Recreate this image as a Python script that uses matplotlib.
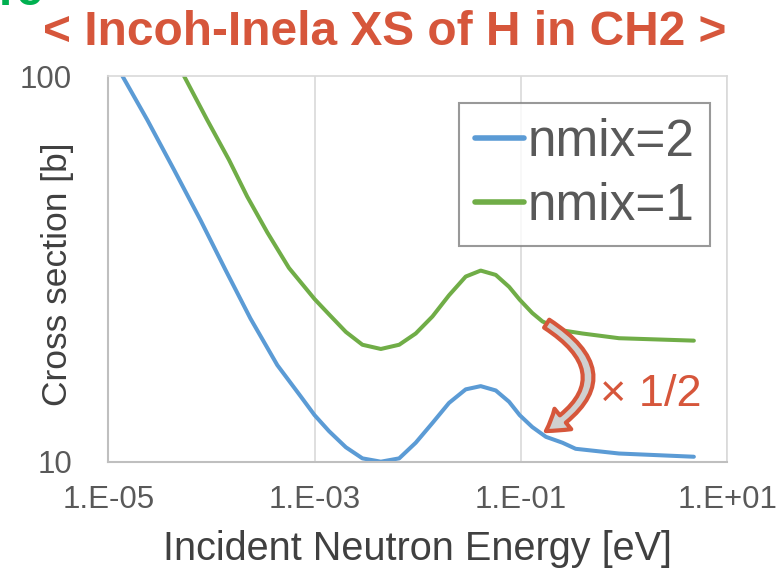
import matplotlib
matplotlib.use('Agg')
import matplotlib.pyplot as plt
from matplotlib.patches import FancyArrowPatch

plt.rcParams['font.family'] = ['Liberation Sans', 'DejaVu Sans']

# incident neutron energy [eV] and cross section [b]
energy_nmix2 = [1.37e-5, 2.39e-5, 4.34e-5, 7.83e-5, 1.37e-4, 2.39e-4, 4.35e-4, 7.29e-4,
                1.0e-3, 1.38e-3, 2.01e-3, 2.91e-3, 4.39e-3, 6.61e-3, 9.57e-3, 1.39e-2,
                2.01e-2, 2.92e-2, 4.08e-2, 5.71e-2, 7.69e-2, 9.75e-2, 1.29e-1, 1.75e-1,
                2.53e-1, 3.40e-1, 8.95e-1, 4.76]
xs_nmix2 = [100, 76.9, 57.1, 42.3, 31.4, 23.5, 17.8, 14.8,
            13.2, 12.0, 10.9, 10.2, 10.0, 10.2, 11.2, 12.6,
            14.2, 15.4, 15.7, 15.3, 14.3, 13.2, 12.3, 11.6,
            11.2, 10.8, 10.5, 10.3]

energy_nmix1 = [5.42e-5, 9.10e-5, 1.48e-4, 2.22e-4, 3.48e-4, 5.64e-4, 1.0e-3, 1.38e-3,
                2.01e-3, 2.91e-3, 4.39e-3, 6.61e-3, 9.57e-3, 1.39e-2, 2.01e-2, 2.92e-2,
                4.08e-2, 5.71e-2, 7.69e-2, 9.75e-2, 1.29e-1, 1.62e-1, 2.53e-1, 3.94e-1,
                8.95e-1, 4.76]
xs_nmix1 = [100, 76.9, 60.6, 48.7, 39.3, 31.8, 26.4, 24.1,
            21.7, 20.1, 19.6, 20.1, 21.5, 23.8, 27.0, 30.2,
            31.3, 30.5, 28.4, 26.3, 24.3, 23.1, 21.9, 21.5,
            20.9, 20.6]

xtick_vals = [1e-5, 1e-3, 1e-1, 1e1]
xtick_labels = ['1.E-05', '1.E-03', '1.E-01', '1.E+01']
ytick_vals = [10, 100]
ytick_labels = ['10', '100']

red = '#d6563b'
gray_txt = '#595959'

fig = plt.figure(figsize=(7.81, 5.69), dpi=100)
ax = fig.add_axes([0.1387, 0.1886, 0.7923, 0.6778])

ax.plot(energy_nmix2, xs_nmix2, color='#5b9bd5', lw=2.9, label='nmix=2',
        solid_capstyle='round', solid_joinstyle='round')
ax.plot(energy_nmix1, xs_nmix1, color='#70ad47', lw=2.9, label='nmix=1',
        solid_capstyle='round', solid_joinstyle='round')

ax.set_xscale('log')
ax.set_yscale('log')
ax.set_xlim(1e-5, 1e1)
ax.set_ylim(10, 100)
ax.set_xticks(xtick_vals)
ax.set_xticklabels(xtick_labels)
ax.set_yticks(ytick_vals)
ax.set_yticklabels(ytick_labels)
ax.minorticks_off()
ax.tick_params(length=0, labelsize=22.5, colors=gray_txt)
ax.tick_params(axis='x', pad=17)
ax.tick_params(axis='y', pad=26)
ax.grid(True, axis='x', color='#d9d9d9', lw=1.2)
ax.set_axisbelow(True)
for s in ['left', 'bottom']:
    ax.spines[s].set_color('#bfbfbf')
    ax.spines[s].set_linewidth(1.5)
for s in ['top', 'right']:
    ax.spines[s].set_color('#d9d9d9')
    ax.spines[s].set_linewidth(1.2)

ax.set_xlabel('Incident Neutron Energy [eV]', fontsize=28.5, color='#404040')
ax.xaxis.set_label_coords(0.5, -0.178)
ax.set_ylabel('Cross section [b]', fontsize=25.5, color='#404040')
ax.yaxis.set_label_coords(-0.055, 0.485)

leg = ax.legend(loc='upper right', bbox_to_anchor=(0.9725, 0.930), fontsize=37,
                frameon=True, fancybox=False, borderaxespad=0, handlelength=0.95,
                handletextpad=0.08, borderpad=0.3, labelspacing=0.28)
leg.get_frame().set_edgecolor('#808080')
leg.get_frame().set_linewidth(1.5)
for t in leg.get_texts():
    t.set_color(gray_txt)
for h in leg.get_lines():
    h.set_linewidth(4)

# curved "x 1/2" arrow from nmix=1 down to nmix=2
arrow = FancyArrowPatch((0.169, 23.0), (0.166, 11.9),
                        connectionstyle='arc3,rad=-0.8',
                        arrowstyle='simple,head_length=0.75,head_width=0.95,tail_width=0.34',
                        mutation_scale=20, fc='#d0d0d0', ec=red, lw=3, zorder=5)
ax.add_patch(arrow)
ax.text(0.877, 0.173, '× 1/2', transform=ax.transAxes, fontsize=32.5, color=red,
        ha='center', va='center')

fig.text(0.492, 1 - 45 / 569, '< Incoh-Inela XS of H in CH2 >', fontsize=34.5,
         fontweight='bold', color=red, ha='center', va='baseline')
fig.text(-0.002, 0.991, 're', fontsize=34, fontweight='bold', color='#00b050',
         ha='left', va='baseline')

fig.savefig('out.png', dpi=100)
